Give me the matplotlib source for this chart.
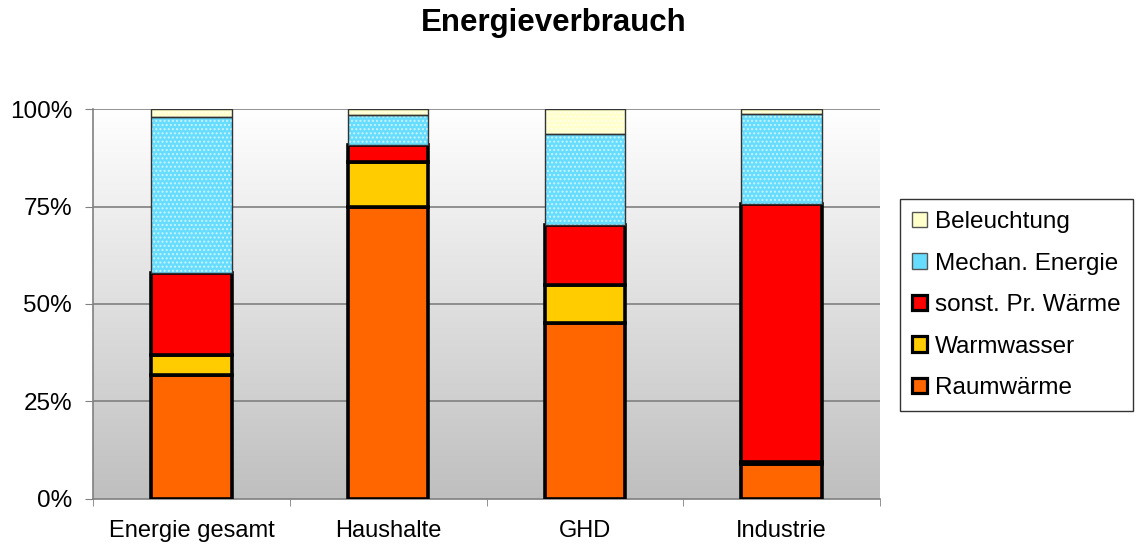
import matplotlib
matplotlib.use("Agg")
import matplotlib.pyplot as plt
import numpy as np
from matplotlib.patches import Patch
from matplotlib.colors import LinearSegmentedColormap

plt.rcParams['font.family'] = ['Liberation Sans', 'DejaVu Sans']

categories = ["Energie gesamt", "Haushalte", "GHD", "Industrie"]
series_names = ["Raumwärme", "Warmwasser", "sonst. Pr. Wärme", "Mechan. Energie", "Beleuchtung"]
raumwaerme = [31.8, 75.0, 45.1, 9.0]
warmwasser = [5.1, 11.4, 9.8, 0.6]
sonst_pr_waerme = [21.0, 4.4, 15.4, 66.0]
mechan_energie = [40.0, 7.7, 23.3, 23.1]
beleuchtung = [2.1, 1.5, 6.4, 1.3]
yticks = [0, 25, 50, 75, 100]
ytick_labels = ["0%", "25%", "50%", "75%", "100%"]

series = [raumwaerme, warmwasser, sonst_pr_waerme, mechan_energie, beleuchtung]
colors = ["#ff6600", "#ffcc00", "#ff0000", "#66dcff", "#ffffcc"]
hatch_colors = [None, None, None, "#c8f4ff", "#fffff0"]
solid = [True, True, True, False, False]

fig = plt.figure(figsize=(11.39, 5.47), dpi=100)
ax = fig.add_axes([0.0817, 0.0878, 0.7726 - 0.0817, 0.8007 - 0.0878])

# gradient background: white at top, gray at bottom
grad = np.linspace(0, 1, 256).reshape(-1, 1)
cmap = LinearSegmentedColormap.from_list("bg", ["#ffffff", "#bfbfbf"])
ax.imshow(grad, aspect='auto', cmap=cmap, extent=[0, 1, 0, 1], origin='upper',
          transform=ax.transAxes, zorder=0)

x = np.arange(len(categories))
width = 0.41
bottom = np.zeros(len(categories))
for vals, c, hc, s in zip(series, colors, hatch_colors, solid):
    vals = np.array(vals)
    if s:
        ax.bar(x, vals, width, bottom=bottom, color=c, edgecolor="black",
               linewidth=2.6, zorder=3)
    else:
        ax.bar(x, vals, width, bottom=bottom, color=c, edgecolor=hc,
               hatch="....", linewidth=0, zorder=3)
        ax.bar(x, vals, width, bottom=bottom, facecolor="none",
               edgecolor="#333333", linewidth=1.0, zorder=4)
    bottom += vals

ax.set_xlim(-0.5, len(categories) - 0.5)
ax.set_ylim(0, 100)
ax.set_yticks(yticks)
ax.set_yticklabels(ytick_labels, fontsize=17.5)
ax.set_xticks(x)
ax.set_xticklabels(categories, fontsize=17)
ax.set_xticks(np.arange(len(categories) + 1) - 0.5, minor=True)
ax.tick_params(axis='x', which='major', length=0, pad=15)
ax.tick_params(axis='x', which='minor', length=5, color="#808080")
ax.tick_params(axis='y', length=6, direction='out', color="#808080", pad=9)

for yv in yticks[1:]:
    ax.axhline(yv, color="#808080", linewidth=1.2, zorder=1)

for sp in ["top", "right"]:
    ax.spines[sp].set_visible(False)
ax.spines["left"].set_color("#808080")
ax.spines["bottom"].set_color("#808080")
ax.spines["left"].set_linewidth(1.2)
ax.spines["bottom"].set_linewidth(1.2)

fig.suptitle("Energieverbrauch", fontsize=22.5, fontweight="bold", x=0.486, y=0.985)

handles = []
for name, c, hc, s in zip(series_names, colors, hatch_colors, solid):
    if s:
        handles.append(Patch(facecolor=c, edgecolor="black", linewidth=2.3, label=name))
    else:
        handles.append(Patch(facecolor=c, edgecolor="#555555", linewidth=1.0, label=name))
handles = handles[::-1]
leg = fig.legend(handles=handles, loc="center left", bbox_to_anchor=(0.790, 0.442),
                 fontsize=17.5, frameon=True, fancybox=False, edgecolor="black",
                 handlelength=0.6, handleheight=0.6, handletextpad=0.35,
                 labelspacing=0.8, borderpad=0.5, borderaxespad=0)
leg.get_frame().set_linewidth(1.0)

fig.savefig("out.png", dpi=100)
